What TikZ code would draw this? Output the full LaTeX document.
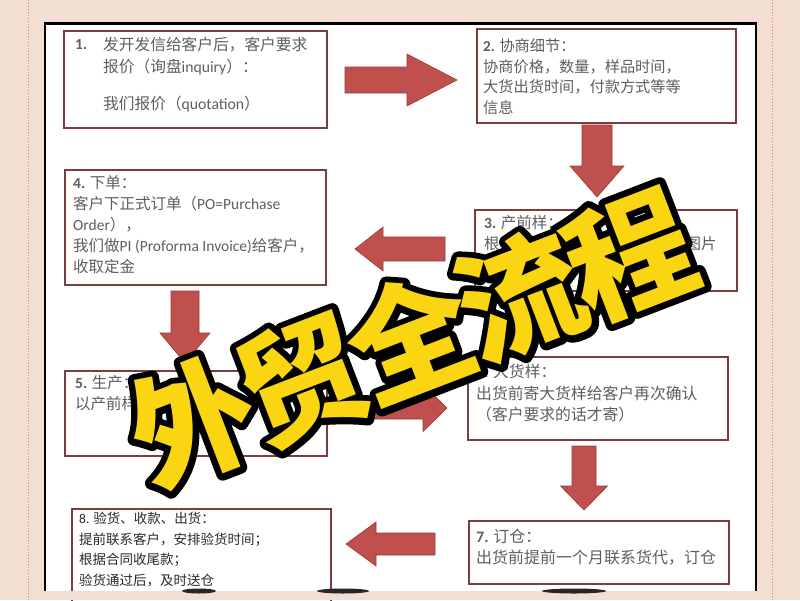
\documentclass[tikz,border=0pt]{standalone}
\usepackage{fontspec}
\usetikzlibrary{calc}
\newfontfamily\cjk{Noto Sans CJK SC}
\newfontfamily\lat{Carlito}
\newfontfamily\ttlfont{Noto Sans CJK SC}
\definecolor{bgc}{HTML}{F2DED3}
\definecolor{dotc}{HTML}{E0876A}
\definecolor{boxc}{HTML}{7A3E3E}
\definecolor{arrc}{HTML}{C0504D}
\definecolor{arrd}{HTML}{9B3A37}
\definecolor{txtc}{HTML}{5E5E5E}
\definecolor{txtd}{HTML}{2A2A2A}
\definecolor{ttly}{HTML}{FAD511}
\newcommand{\blockarrow}[5]{%
  \coordinate (nk) at ($(#2)!#5!(#1)$);
  \draw[arrowshape] ($(#1)!#3!90:(#2)$) -- ($(nk)!#3!90:(#2)$) -- ($(nk)!#4!90:(#2)$) -- (#2)
     -- ($(nk)!#4!-90:(#2)$) -- ($(nk)!#3!-90:(#2)$) -- ($(#1)!#3!-90:(#2)$) -- cycle;
}
\newcommand{\strokedtext}[1]{\special{pdf:literal direct 2 Tr 13 w 1 j}#1\special{pdf:literal direct 0 Tr}}
\newcommand{\ttlword}{外\kern-8pt 贸\kern-8pt 全\kern-8pt 流\kern-8pt 程}
\tikzset{
  stepbox/.style={draw=boxc, line width=1.8pt, fill=white, anchor=north west, inner sep=0pt},
  arrowshape/.style={fill=arrc, draw=arrd, line width=0.6pt, line join=miter},
  btext/.style={anchor=north west, inner sep=0pt, align=left, text=txtc},
  numlab/.style={anchor=west, inner sep=0pt, text=txtc, font=\lat\bfseries\fontsize{15.5}{18}\selectfont},
  ttlstyle/.style={rotate=21, inner sep=0pt, font=\ttlfont\bfseries\fontsize{125}{125}\selectfont},
}
\begin{document}
\begin{tikzpicture}[x=1pt,y=-1pt]
\useasboundingbox (0,0) rectangle (800,600);
% background
\fill[bgc] (0,0) rectangle (800,600);
\draw[dotc, dotted, line width=1pt] (28,0) -- (28,600);
\draw[dotc, dotted, line width=1pt] (772,0) -- (772,600);
% white panel
\fill[white] (45,23) rectangle (756,592);
\draw[black, line width=1.4pt] (45,23) -- (45,592);
\draw[black, line width=2pt] (756,23) -- (756,592);
\draw[black, line width=3pt] (44,23) -- (757,23);

% boxes
\node[stepbox, minimum width=263pt, minimum height=97pt] (b1) at (63,30) {};
\node[stepbox, minimum width=259pt, minimum height=94pt] (b2) at (476,28) {};
\node[stepbox, minimum width=262pt, minimum height=81pt] (b3) at (474,209) {};
\node[stepbox, minimum width=261pt, minimum height=115pt] (b4) at (64,169) {};
\node[stepbox, minimum width=262pt, minimum height=85pt] (b5) at (64,370) {};
\node[stepbox, minimum width=260pt, minimum height=83pt] (b6) at (467,356) {};
\node[stepbox, minimum width=260pt, minimum height=63pt] (b7) at (468,520) {};
\node[stepbox, minimum width=259pt, minimum height=95pt] (b8) at (71,508) {};

% texts
\node[numlab] (n1) at (75,45) {1.};
\node[btext, font=\cjk\fontsize{15.7}{21.5}\selectfont] (t1) at (103,37)
  {发开发信给客户后，客户要求\\报价（询盘{\lat inquiry}）：\\[16pt]我们报价（{\lat quotation}）};
\node[btext, font=\cjk\fontsize{15.2}{20.5}\selectfont] (t2) at (483,38.5)
  {{\lat\bfseries 2.} 协商细节：\\协商价格，数量，样品时间，\\大货出货时间，付款方式等等\\信息};
\node[btext, font=\cjk\fontsize{15.5}{21}\selectfont] (t3) at (484,215)
  {{\lat\bfseries 3.} 产前样：\\根据客户要求打样，寄样或发图片\\给客户确认};
\node[btext, font=\cjk\fontsize{15.5}{21}\selectfont] (t4) at (73,175)
  {{\lat\bfseries 4.} 下单：\\客户下正式订单（{\lat PO=Purchase}\\{\lat Order}），\\我们做{\lat PI (Proforma Invoice)}给客户，\\收取定金};
\node[btext, font=\cjk\fontsize{15.5}{21}\selectfont] (t5) at (75,375.5)
  {{\lat\bfseries 5.} 生产：\\以产前样为准生产（跟单）};
\node[btext, font=\cjk\fontsize{15.8}{21.5}\selectfont] (t6) at (476,364)
  {{\lat\bfseries 6.} 大货样：\\出货前寄大货样给客户再次确认\\（客户要求的话才寄）};
\node[btext, font=\cjk\fontsize{16}{21}\selectfont] (t7) at (476,529)
  {{\lat\bfseries 7.} 订仓：\\出货前提前一个月联系货代，订仓};
\node[btext, text=txtd, font=\cjk\fontsize{13.5}{20.5}\selectfont] (t8) at (79,512)
  {{\lat 8.} 验货、收款、出货：\\提前联系客户，安排验货时间；\\根据合同收尾款；\\验货通过后，及时送仓};

% arrows
\coordinate (a12s) at (345,80);  \coordinate (a12e) at (457,80);
\coordinate (a23s) at (597,125); \coordinate (a23e) at (597,197);
\coordinate (a34s) at (445,249); \coordinate (a34e) at (355,249);
\coordinate (a45s) at (185,291); \coordinate (a45e) at (185,363);
\coordinate (a56s) at (350,408); \coordinate (a56e) at (447,408);
\coordinate (a67s) at (584,446); \coordinate (a67e) at (584,510);
\coordinate (a78s) at (435,544); \coordinate (a78e) at (346,544);
\blockarrow{a12s}{a12e}{13pt}{26pt}{50pt}
\blockarrow{a23s}{a23e}{15pt}{27pt}{31pt}
\blockarrow{a34s}{a34e}{12pt}{22pt}{28pt}
\blockarrow{a45s}{a45e}{14pt}{25pt}{30pt}
\blockarrow{a56s}{a56e}{11pt}{23.5pt}{24pt}
\blockarrow{a67s}{a67e}{12pt}{23.5pt}{24pt}
\blockarrow{a78s}{a78e}{11pt}{22pt}{30pt}

% bottom band
\fill[bgc] (0,591) rectangle (800,600);
\draw[dotc, dotted, line width=1pt] (28,590) -- (28,600);
\draw[dotc, dotted, line width=1pt] (772,590) -- (772,600);
\fill[black!85] (199,591) ellipse [x radius=17pt, y radius=2.5pt];
\fill[black!85] (343,591) ellipse [x radius=26pt, y radius=2.5pt];
\fill[black!85] (574,591) ellipse [x radius=32pt, y radius=2.5pt];

% title overlay
\coordinate (tc) at (411,338);
\node[ttlstyle, text=black] (ttlo) at (tc) {\strokedtext{\ttlword}};
\node[ttlstyle, text=ttly] (ttl) at (tc) {\ttlword};
\end{tikzpicture}
\end{document}
